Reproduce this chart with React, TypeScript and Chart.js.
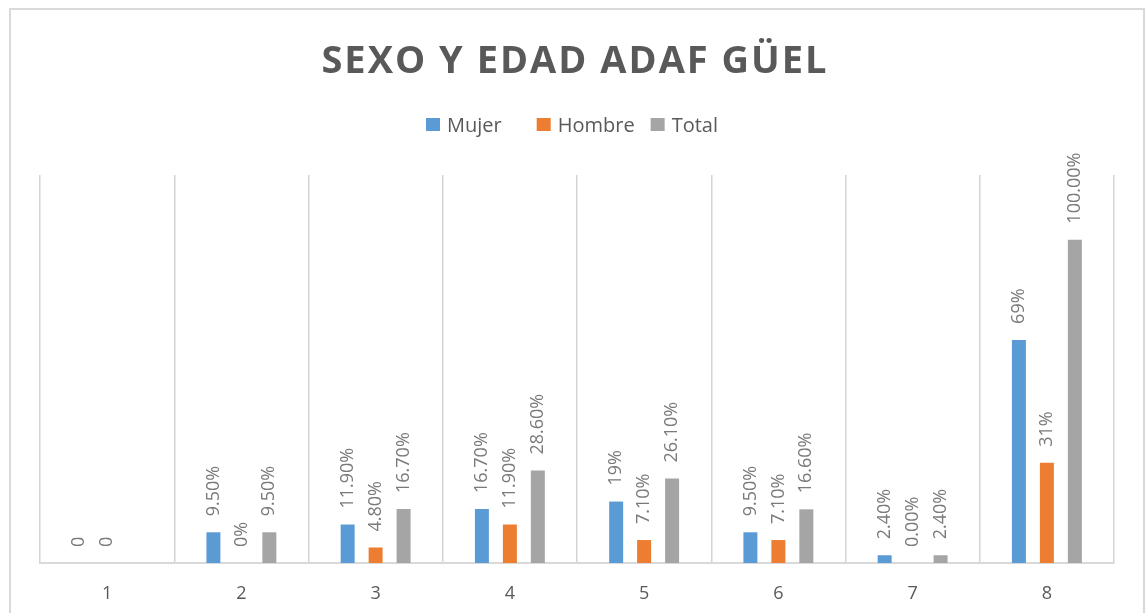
import React, { useEffect, useRef } from "react";
import { Chart, registerables } from "chart.js";

Chart.register(...registerables);

const categories = ["1", "2", "3", "4", "5", "6", "7", "8"];
const mujerValues = [0, 9.5, 11.9, 16.7, 19, 9.5, 2.4, 69];
const hombreValues = [0, 0, 4.8, 11.9, 7.1, 7.1, 0, 31];
const totalValues = [null, 9.5, 16.7, 28.6, 26.1, 16.6, 2.4, 100];
const mujerLabels = ["0", "9.50%", "11.90%", "16.70%", "19%", "9.50%", "2.40%", "69%"];
const hombreLabels = ["0", "0%", "4.80%", "11.90%", "7.10%", "7.10%", "0.00%", "31%"];
const totalLabels = [null, "9.50%", "16.70%", "28.60%", "26.10%", "16.60%", "2.40%", "100.00%"];
const seriesNames = ["Mujer", "Hombre", "Total"];
const seriesColors = ["#5b9bd5", "#ed7d31", "#a5a5a5"];
const titleText = "SEXO Y EDAD ADAF GÜEL";

const FONT = '"Open Sans", sans-serif';
const TEXT = "#595959";

const framePlugin = {
  id: "frame",
  beforeDraw(chart: any) {
    const ctx = chart.ctx;
    ctx.save();
    ctx.fillStyle = "#ffffff";
    ctx.fillRect(0, 0, chart.width, chart.height);
    ctx.strokeStyle = "#d9d9d9";
    ctx.lineWidth = 2;
    ctx.strokeRect(10, 9, 1134, 700);
    ctx.restore();
  },
};

const titleLegendPlugin = {
  id: "titleLegend",
  afterDraw(chart: any) {
    const ctx = chart.ctx;
    ctx.save();
    // title
    ctx.font = `bold 38px ${FONT}`;
    (ctx as any).letterSpacing = "2px";
    ctx.fillStyle = TEXT;
    ctx.textAlign = "center";
    ctx.textBaseline = "alphabetic";
    ctx.fillText(titleText, 575, 73);
    (ctx as any).letterSpacing = "0px";
    // legend
    ctx.font = `20px ${FONT}`;
    ctx.textAlign = "left";
    const gaps = [35, 16];
    let x = 426;
    seriesNames.forEach((name, i) => {
      ctx.fillStyle = seriesColors[i];
      ctx.fillRect(x, 118, 14, 13);
      ctx.fillStyle = TEXT;
      ctx.fillText(name, x + 21, 132);
      x += 21 + ctx.measureText(name).width + (gaps[i] || 0);
    });
    ctx.restore();
  },
};

const labelsList = [mujerLabels, hombreLabels, totalLabels];

const dataLabelPlugin = {
  id: "barLabels",
  afterDatasetsDraw(chart: any) {
    const ctx = chart.ctx;
    ctx.save();
    ctx.font = `18px ${FONT}`;
    ctx.fillStyle = "#7a7a7a";
    ctx.textAlign = "left";
    ctx.textBaseline = "middle";
    chart.data.datasets.forEach((_ds: any, di: number) => {
      const meta = chart.getDatasetMeta(di);
      meta.data.forEach((bar: any, i: number) => {
        const txt = labelsList[di][i];
        if (txt == null) return;
        ctx.save();
        ctx.translate(bar.x, bar.y - 16);
        ctx.rotate(-Math.PI / 2);
        ctx.fillText(txt, 0, 0);
        ctx.restore();
      });
    });
    ctx.restore();
  },
};

export default function App() {
  const ref = useRef<HTMLCanvasElement>(null);
  useEffect(() => {
    if (!ref.current) return;
    const chart = new Chart(ref.current, {
      type: "bar",
      data: {
        labels: categories,
        datasets: [
          { label: seriesNames[0], data: mujerValues, backgroundColor: seriesColors[0] },
          { label: seriesNames[1], data: hombreValues, backgroundColor: seriesColors[1] },
          { label: seriesNames[2], data: totalValues as any, backgroundColor: seriesColors[2] },
        ],
      },
      options: {
        responsive: false,
        animation: false,
        layout: { padding: { left: 40, right: 32, top: 175, bottom: 0 } },
        datasets: { bar: { categoryPercentage: 0.625, barPercentage: 0.5 } },
        plugins: {
          legend: { display: false },
          title: { display: false },
          tooltip: { enabled: false },
        },
        scales: {
          x: {
            grid: { color: "#d4d4d4", lineWidth: 1.5, drawTicks: false, offset: true },
            border: { color: "#d9d9d9", width: 2 },
            ticks: { color: TEXT, font: { family: FONT, size: 18 }, padding: 20 },
            afterFit: (scale: any) => {
              scale.height = 50;
            },
          },
          y: { display: false, min: 0, max: 120 },
        },
      },
      plugins: [framePlugin, titleLegendPlugin, dataLabelPlugin],
    });
    return () => chart.destroy();
  }, []);
  return (
    <div style={{ position: "absolute", left: 0, top: 0, width: 1146, height: 613 }}>
      <canvas ref={ref} width={1146} height={613} style={{ display: "block" }} />
    </div>
  );
}
